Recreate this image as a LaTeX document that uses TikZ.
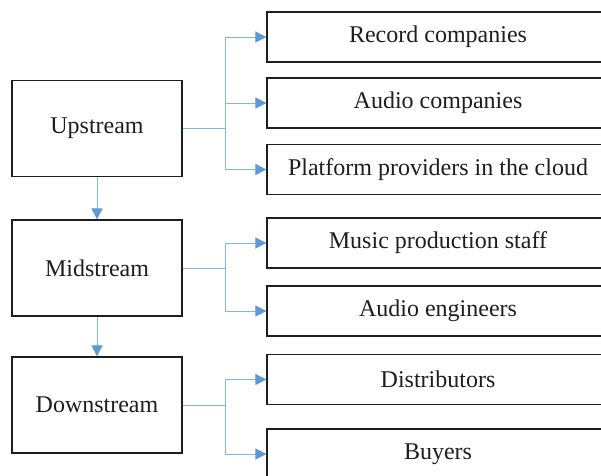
\documentclass[tikz,border=0pt]{standalone}
\usepackage{fontspec}
\setmainfont{Liberation Serif}
\usetikzlibrary{arrows.meta}
\definecolor{flow}{HTML}{5B9BD5}
\definecolor{ink}{HTML}{1E1E1E}
\tikzset{
  stage/.style={draw=ink, line width=1.3pt, fill=white, minimum width=170pt, minimum height=96pt,
    inner sep=0pt, font=\fontsize{24}{28}\selectfont, text=ink},
  actor/.style={draw=ink, line width=1.3pt, fill=white, minimum width=342pt, minimum height=50pt,
    inner sep=0pt, font=\fontsize{24}{28}\selectfont, text=ink},
  link/.style={draw=flow!75, line width=0.9pt},
  arr/.style={link, -{Triangle[length=11pt,width=11pt,color=flow]}}
}
\begin{document}
\begin{tikzpicture}[x=1pt,y=-1pt]
  \useasboundingbox (0,0) rectangle (601,475);
  \clip (0,0) rectangle (601,475);
  \fill[white] (0,0) rectangle (601,475);

  % supply-chain stages
  \node[stage] (up)   at (97,128.5) {Upstream};
  \node[stage] (mid)  at (97,268)   {Midstream};
  \node[stage] (down) at (97,405)   {Downstream};

  % participants of each stage
  \node[actor] (rec)  at (438,37)    {Record companies};
  \node[actor] (aud)  at (438,103)   {Audio companies};
  \node[actor] (plat) at (438,169.5) {Platform providers in the cloud};
  \node[actor] (mus)  at (438,243)   {Music production staff};
  \node[actor] (eng)  at (438,311)   {Audio engineers};
  \node[actor] (dist) at (438,379.5) {Distributors};
  \node[actor] (buy)  at (438,454)   {Buyers};

  % stage-to-stage flow
  \draw[arr] (up.south) -- (mid.north);
  \draw[arr] (mid.south) -- (down.north);

  % branch points
  \coordinate (jU) at (225,128.5);
  \coordinate (jM) at (225,268);
  \coordinate (jD) at (225,405);

  \draw[link] (up.east) -- (jU);
  \draw[arr] (jU) |- (rec.west);
  \draw[arr] (jU) |- (aud.west);
  \draw[arr] (jU) |- (plat.west);

  \draw[link] (mid.east) -- (jM);
  \draw[arr] (jM) |- (mus.west);
  \draw[arr] (jM) |- (eng.west);

  \draw[link] (down.east) -- (jD);
  \draw[arr] (jD) |- (dist.west);
  \draw[arr] (jD) |- (buy.west);
\end{tikzpicture}
\end{document}
